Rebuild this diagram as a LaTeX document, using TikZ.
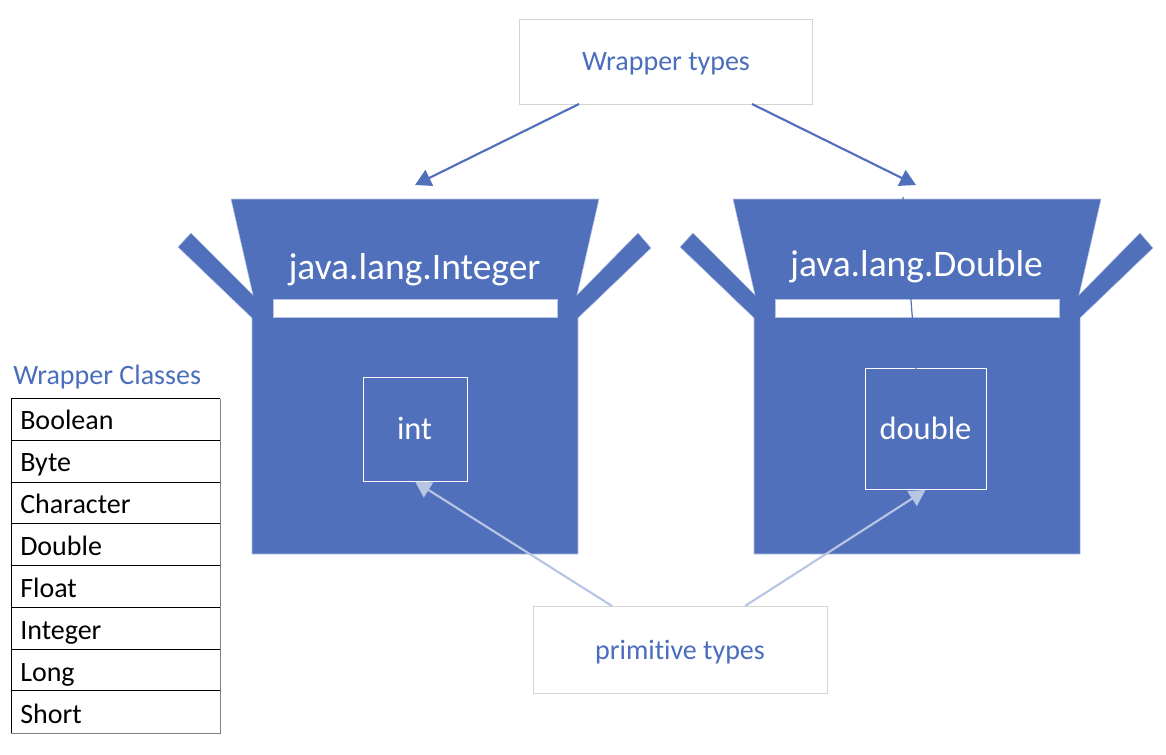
\documentclass[tikz,border=0pt]{standalone}
\usepackage{fontspec}
\setmainfont[Ligatures=NoCommon]{Carlito}
\usetikzlibrary{arrows.meta}
\definecolor{boxblue}{HTML}{5070BC}
\definecolor{textblue}{HTML}{4A6DBE}
\definecolor{paleline}{HTML}{B8C4E3}
\definecolor{edgeg}{HTML}{D4D4D4}
\definecolor{tablegrey}{HTML}{808080}
\tikzset{
  x=0.75pt,y=-0.75pt,
  boxshape/.style={fill=boxblue,draw=paleline,line width=0.4pt,line join=miter},
  slot/.style={fill=white,draw=paleline,line width=0.4pt,inner sep=0pt},
  inner/.style={draw=white,line width=0.7pt,inner sep=0pt,fill=boxblue},
  callout/.style={draw=edgeg,line width=0.75pt,fill=white,inner sep=0pt},
  bluelabel/.style={text=textblue,font=\fontsize{21}{24}\selectfont,anchor=base,inner sep=0pt},
  whitebig/.style={text=white,font=\fontsize{28.1}{32}\selectfont,anchor=base,inner sep=0pt},
  whitemid/.style={text=white,font=\fontsize{24.3}{28}\selectfont,anchor=base,inner sep=0pt},
  celltext/.style={text=black,font=\fontsize{21}{24}\selectfont,anchor=base west,inner sep=0pt},
  cellline/.style={draw=black,line width=0.75pt},
  darkarrow/.style={draw=boxblue,line width=1.6pt,-{Triangle[length=12pt,width=13pt]}},
  palearrow/.style={draw=paleline,line width=1.6pt,-{Triangle[length=12pt,width=13pt]}},
}
\newcommand{\openbox}[1]{%
  \begin{scope}[shift={(#1,0)}]
    \path[boxshape] (231,199)--(599,199)--(577,295)--(638,233)--(651,248)--(578,318)
      --(578,554)--(252,554)--(252,318)--(178,247)--(191,233)--(253,295)--cycle;
  \end{scope}}
\begin{document}
\begin{tikzpicture}
\useasboundingbox (0,0) rectangle (1166,754);
\coordinate (w1) at (579,104);
\coordinate (w2) at (752,104);
\coordinate (h1) at (415,185);
\coordinate (h2) at (916,185);
\coordinate (p1) at (612,606);
\coordinate (p2) at (745,606);
% boxes
\openbox{0}
\openbox{502}
\node[slot,minimum width=284*0.75pt,minimum height=18*0.75pt] (barL) at (415,308) {};
\node[slot,minimum width=284*0.75pt,minimum height=18*0.75pt] (barR) at (917,308) {};
\coordinate (s1) at (903,197);
\coordinate (s2) at (915,352);
\coordinate (s3) at (916,370);
\draw[boxblue,line width=0.9pt] (s1) -- (s2);
\node[inner,minimum width=104*0.75pt,minimum height=104*0.75pt] (intbox) at (415,429) {};
\node[inner,minimum width=121*0.75pt,minimum height=121*0.75pt] (dblbox) at (925.5,429) {};
\draw[boxblue,line width=0.9pt] (s2) -- (s3);
\node[whitebig] (jli) at (414.5,279) {java.lang.Integer};
\node[whitebig] (jld) at (916.5,276.5) {java.lang.Double};
\node[whitemid] (intl) at (414.5,439) {int};
\node[whitemid] (dbll) at (925.5,439) {double};
% callouts
\node[callout,minimum width=293*0.75pt,minimum height=85*0.75pt] (wt) at (665.5,61.5) {};
\node[bluelabel] (wtl) at (666,70.5) {Wrapper types};
\node[callout,minimum width=294*0.75pt,minimum height=87*0.75pt] (pt) at (680,649.5) {};
\node[bluelabel] (ptl) at (680,659) {primitive types};
% arrows
\draw[darkarrow] (w1) -- (h1);
\draw[darkarrow] (w2) -- (h2);
\draw[palearrow] (p1) -- (intbox.south);
\draw[palearrow] (p2) -- (dblbox.south);
% table
\node[text=textblue,font=\fontsize{21}{24}\selectfont,anchor=base west,inner sep=0pt] (tt) at (13,384) {Wrapper Classes};
\draw[cellline] (11,398.5) -- (220,398.5);
\draw[cellline] (11,440) -- (220,440);
\draw[cellline] (11,482) -- (220,482);
\draw[cellline] (11,523) -- (220,523);
\draw[cellline] (11,565) -- (220,565);
\draw[cellline] (11,607) -- (220,607);
\draw[cellline] (11,649) -- (220,649);
\draw[cellline] (11,690.5) -- (220,690.5);
\draw[cellline] (11,398.5) -- (11,733);
\draw[draw=tablegrey,line width=0.75pt] (220,398.5) -- (220,733) -- (11,733);
\node[celltext] at (20,429) {Boolean};
\node[celltext] at (20,471) {Byte};
\node[celltext] at (20,513) {Character};
\node[celltext] at (20,555) {Double};
\node[celltext] at (20,597) {Float};
\node[celltext] at (20,639) {Integer};
\node[celltext] at (20,681) {Long};
\node[celltext] at (20,723) {Short};
\end{tikzpicture}
\end{document}
